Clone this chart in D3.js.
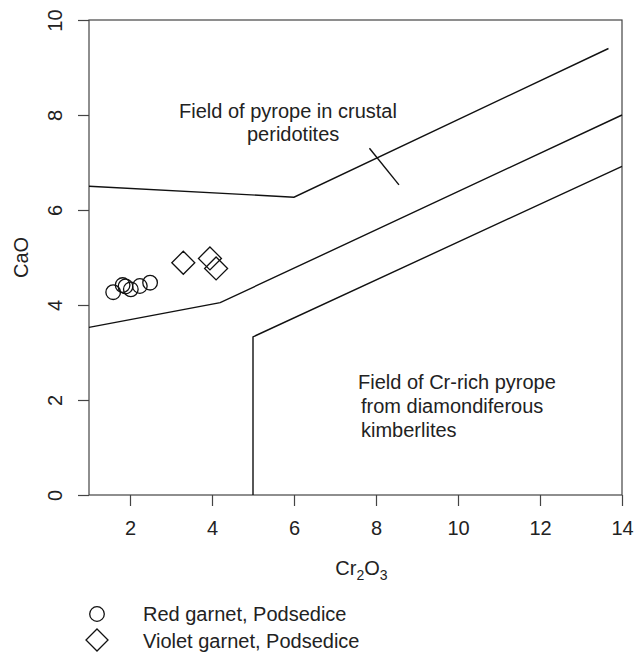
<!DOCTYPE html>
<html>
<head>
<meta charset="utf-8">
<script src="https://cdn.jsdelivr.net/npm/d3@7"></script>
<style>
  body { margin: 0; background: #fff; }
  svg text { font-family: "Liberation Sans", Arial, sans-serif; fill: #222; }
</style>
</head>
<body>
<div id="chart"></div>
<script>
// garnet analyses (Cr2O3, CaO wt%)
const redCr = [1.59, 1.82, 1.89, 2.02, 2.24, 2.49];
const redCa = [4.27, 4.42, 4.39, 4.33, 4.40, 4.47];
const violetCr = [3.30, 3.95, 4.10];
const violetCa = [4.89, 4.98, 4.77];

// field boundaries
const upperLine = [[1, 6.5], [6, 6.27], [13.67, 9.40]];
const middleLine = [[1, 3.53], [4.2, 4.05], [14, 8.0]];
const lowerLine = [[5, 0], [5, 3.33], [14, 6.92]];
const crossTick = [[7.84, 7.30], [8.56, 6.53]];

const xTicks = [2, 4, 6, 8, 10, 12, 14];
const yTicks = [0, 2, 4, 6, 8, 10];

const legendLabels = ['Red garnet, Podsedice', 'Violet garnet, Podsedice'];

const width = 635, height = 663;
const margin = {top: 20, right: 13, bottom: 168, left: 89};

const svg = d3.select('#chart')
    .append('svg')
    .attr('width', width)
    .attr('height', height);

const x = d3.scaleLinear()
    .domain([1, 14])
    .range([margin.left, width - margin.right]);
const y = d3.scaleLinear()
    .domain([0, 10])
    .range([height - margin.bottom, margin.top]);

const axisColor = '#444';
const fontSize = 20;

// box
svg.append('rect')
    .attr('x', x(1))
    .attr('y', y(10))
    .attr('width', x(14) - x(1))
    .attr('height', y(0) - y(10))
    .attr('fill', 'none')
    .attr('stroke', axisColor)
    .attr('stroke-width', 1.2);

// x axis
const gx = svg.append('g')
    .attr('transform', `translate(0,${y(0)})`)
    .call(d3.axisBottom(x).tickValues(xTicks).tickSize(11).tickPadding(15).tickSizeOuter(0));
gx.select('.domain').remove();
gx.selectAll('line').attr('stroke', axisColor).attr('stroke-width', 1.2);
gx.selectAll('text').attr('font-size', fontSize).attr('fill', '#222')
    .style('font-family', '"Liberation Sans", Arial, sans-serif');

// y axis, labels rotated like R
const gy = svg.append('g')
    .attr('transform', `translate(${x(1)},0)`)
    .call(d3.axisLeft(y).tickValues(yTicks).tickSize(11).tickSizeOuter(0));
gy.select('.domain').remove();
gy.selectAll('line').attr('stroke', axisColor).attr('stroke-width', 1.2);
gy.selectAll('text')
    .attr('font-size', fontSize)
    .attr('fill', '#222')
    .style('font-family', '"Liberation Sans", Arial, sans-serif')
    .attr('x', null)
    .attr('dy', null)
    .attr('text-anchor', 'middle')
    .attr('transform', 'translate(-27,0) rotate(-90)');

// axis titles
svg.append('text')
    .attr('transform', `translate(28,${(y(0) + y(10)) / 2}) rotate(-90)`)
    .attr('text-anchor', 'middle')
    .attr('font-size', fontSize)
    .text('CaO');

const xt = svg.append('text')
    .attr('x', (x(1) + x(14)) / 2 + 6)
    .attr('y', 575)
    .attr('text-anchor', 'middle')
    .attr('font-size', fontSize);
xt.append('tspan').text('Cr');
xt.append('tspan').attr('font-size', 14).attr('dy', 5).text('2');
xt.append('tspan').attr('dy', -5).text('O');
xt.append('tspan').attr('font-size', 14).attr('dy', 5).text('3');

// boundary lines
const line = d3.line().x(d => x(d[0])).y(d => y(d[1]));
[upperLine, middleLine, lowerLine, crossTick].forEach(pts => {
    svg.append('path')
        .attr('d', line(pts))
        .attr('fill', 'none')
        .attr('stroke', '#111')
        .attr('stroke-width', 1.4);
});

// field labels
const fieldText = [
    {t: 'Field of pyrope in crustal', x: 179, y: 118},
    {t: 'peridotites', x: 247, y: 141},
    {t: 'Field of Cr-rich pyrope', x: 358, y: 389},
    {t: 'from diamondiferous', x: 361, y: 413},
    {t: 'kimberlites', x: 361, y: 437}
];
svg.selectAll('.field')
    .data(fieldText)
    .enter().append('text')
    .attr('class', 'field')
    .attr('x', d => d.x)
    .attr('y', d => d.y)
    .attr('font-size', fontSize)
    .text(d => d.t);

// symbols
const diamond = (cx, cy, r) => `M${cx},${cy - r}L${cx + r},${cy}L${cx},${cy + r}L${cx - r},${cy}Z`;

svg.selectAll('.red')
    .data(redCr)
    .enter().append('circle')
    .attr('cx', d => x(d))
    .attr('cy', (d, i) => y(redCa[i]))
    .attr('r', 7.3)
    .attr('fill', 'none')
    .attr('stroke', '#111')
    .attr('stroke-width', 1.3);

svg.selectAll('.violet')
    .data(violetCr)
    .enter().append('path')
    .attr('d', (d, i) => diamond(x(d), y(violetCa[i]), 11.5))
    .attr('fill', 'none')
    .attr('stroke', '#111')
    .attr('stroke-width', 1.3);

// legend
svg.append('circle')
    .attr('cx', 97).attr('cy', 614).attr('r', 7.3)
    .attr('fill', 'none').attr('stroke', '#111').attr('stroke-width', 1.3);
svg.append('path')
    .attr('d', diamond(97, 640, 11))
    .attr('fill', 'none').attr('stroke', '#111').attr('stroke-width', 1.3);
svg.selectAll('.leg')
    .data(legendLabels)
    .enter().append('text')
    .attr('x', 143)
    .attr('y', (d, i) => 621 + i * 27)
    .attr('font-size', fontSize)
    .text(d => d);
</script>
</body>
</html>
